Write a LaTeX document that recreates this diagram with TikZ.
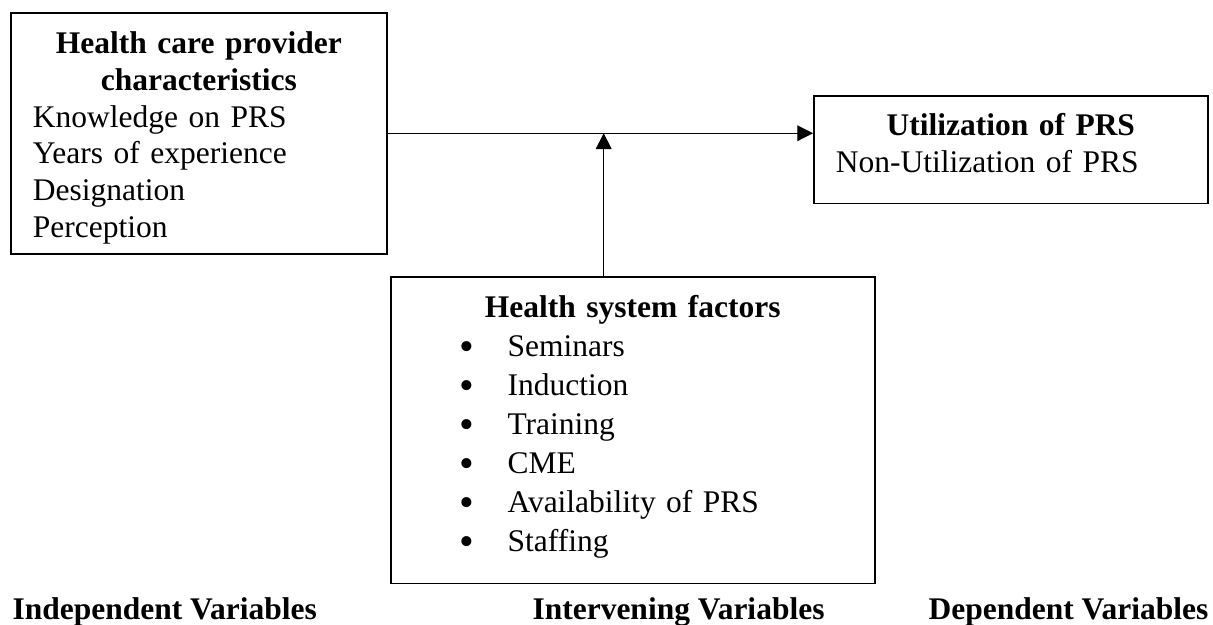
\documentclass[tikz,border=0pt]{standalone}
\usepackage{fontspec}
\setmainfont{Liberation Serif}
\usepackage{tikz}
\usetikzlibrary{arrows.meta}

\newcommand{\dotitem}[1]{\makebox[36.1pt][l]{\hspace{17.7pt}\raisebox{-1.5pt}{\fontsize{16}{14}\selectfont\textbullet}}#1}

\begin{document}
\begin{tikzpicture}[x=0.381pt,y=-0.381pt,>={Triangle[length=6pt,width=6pt]},
 every node/.style={font=\fontsize{12}{14}\selectfont},
 box/.style={draw,line width=0.6pt,anchor=north west,align=left,inner xsep=8.4pt,inner ysep=0pt},
 link/.style={line width=0.4pt,->},
 heading/.style={font=\fontsize{12}{14}\selectfont\bfseries,anchor=base west,inner sep=0pt}]
\useasboundingbox (0,0) rectangle (1213,625);

% the three boxes
\node[box,text width=126.5pt,text height=15.6pt,text depth=76.2pt] (A) at (10,12)
 {{\centering\bfseries Health care provider\\characteristics\par}
  Knowledge on PRS\\
  Years of experience\\
  Designation\\
  Perception};
\node[box,text width=133.3pt,text height=15.2pt,text depth=25.9pt] (B) at (813,95)
 {{\centering\bfseries Utilization of PRS\par}
  Non-Utilization of PRS};
\node[box,font=\fontsize{12}{14.8}\selectfont,text width=167.6pt,text height=15.7pt,text depth=101.2pt] (C) at (390,276)
 {{\centering\bfseries Health system factors\par}
  \dotitem{Seminars}\\
  \dotitem{Induction}\\
  \dotitem{Training}\\
  \dotitem{CME}\\
  \dotitem{Availability of PRS}\\
  \dotitem{Staffing}};

% arrows
\path (A.east) ++(216,0) coordinate (meet);
\draw[link] (A.east) -- (A.east -| B.west);
\draw[link] (C.north -| meet) -- (meet);

% column titles
\node[heading] (indep) at (12,619) {Independent Variables};
\node[heading] (interv) at (532,619) {Intervening Variables};
\node[heading] (dep) at (928,619) {Dependent Variables};
\end{tikzpicture}
\end{document}
